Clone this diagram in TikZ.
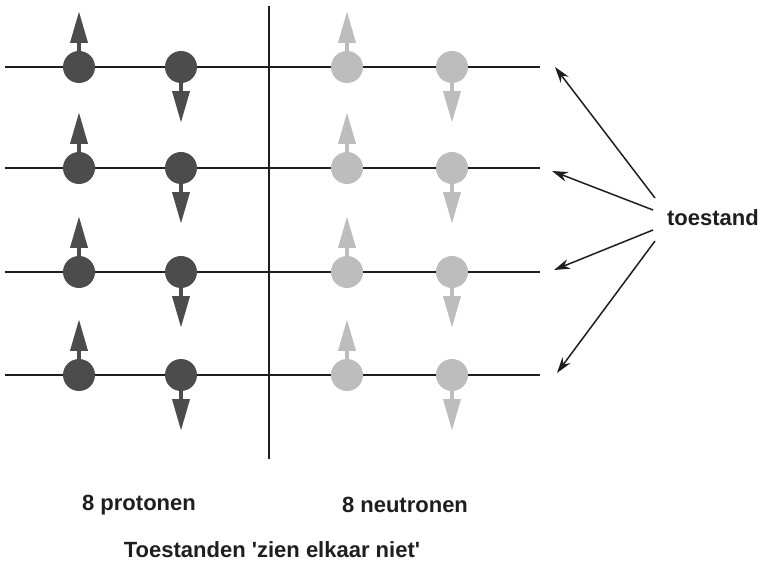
\documentclass[tikz,border=0pt]{standalone}
\usepackage{fontspec}
\setmainfont{Liberation Sans}
% plain family without TeX ligatures, so that ' stays a straight quote
\newfontfamily\labelfont{Liberation Sans}
\usetikzlibrary{arrows.meta}
\definecolor{protonfill}{HTML}{4C4C4C}
\definecolor{neutronfill}{HTML}{BDBDBD}
\definecolor{ink}{HTML}{1E1E1E}
\tikzset{
  level/.style={draw=ink, line width=2pt},
  divider/.style={draw=ink, line width=2pt},
  particle/.style={circle, minimum size=32pt, inner sep=0pt, draw=none},
  proton/.style={particle, fill=protonfill},
  neutron/.style={particle, fill=neutronfill},
  label/.style={font=\labelfont\fontsize{22}{26}\selectfont\bfseries, text=ink, inner sep=0pt},
  pointer/.style={draw=ink, line width=1.5pt, -{Stealth[length=16pt,width=10pt]}},
}
% spin arrow: stem from the particle edge, then a triangular head
\newcommand{\spinup}[2]{%
  \fill[#2] ([xshift=-1.6pt]#1.north) rectangle ([xshift=1.6pt,yshift=9pt]#1.north);
  \fill[#2] ([xshift=-9pt,yshift=8pt]#1.north) -- ([xshift=9pt,yshift=8pt]#1.north) -- ([yshift=39pt]#1.north) -- cycle;}
\newcommand{\spindown}[2]{%
  \fill[#2] ([xshift=-1.6pt]#1.south) rectangle ([xshift=1.6pt,yshift=-9pt]#1.south);
  \fill[#2] ([xshift=-9pt,yshift=-8pt]#1.south) -- ([xshift=9pt,yshift=-8pt]#1.south) -- ([yshift=-39pt]#1.south) -- cycle;}
\begin{document}
\begin{tikzpicture}[x=1pt,y=-1pt]
\useasboundingbox (0,0) rectangle (764,561);
% energy levels and the proton / neutron divider
\foreach \i/\y in {1/67,2/168,3/272,4/375}{
  \coordinate (L\i) at (5,\y);
  \coordinate (R\i) at (540,\y);
  \draw[level] (L\i) -- (R\i);
}
\coordinate (vtop) at (269,6);
\coordinate (vbot) at (269,459);
\draw[divider] (vtop) -- (vbot);
% particles with their spins
\foreach \i/\y in {1/67,2/168,3/272,4/375}{
  \node[proton]  (pa\i) at (79,\y) {};
  \node[proton]  (pb\i) at (181,\y) {};
  \node[neutron] (na\i) at (347,\y) {};
  \node[neutron] (nb\i) at (452,\y) {};
  \spinup{pa\i}{protonfill}
  \spindown{pb\i}{protonfill}
  \spinup{na\i}{neutronfill}
  \spindown{nb\i}{neutronfill}
}
% labels
\node[label] (toestand) at (713,218) {toestand};
\node[label] (prot) at (139,505) {8 protonen};
\node[label] (neut) at (405,505) {8 neutronen};
\node[label] (caption) at (272,550) {Toestanden 'zien elkaar niet'};
% pointers from the label to each level
\coordinate (s1) at (655,198); \coordinate (e1) at (555,67);
\coordinate (s2) at (653,210); \coordinate (e2) at (552,171);
\coordinate (s3) at (653,230); \coordinate (e3) at (554,270);
\coordinate (s4) at (655,241); \coordinate (e4) at (557,373);
\foreach \k in {1,2,3,4}{ \draw[pointer] (s\k) -- (e\k); }
\end{tikzpicture}
\end{document}
